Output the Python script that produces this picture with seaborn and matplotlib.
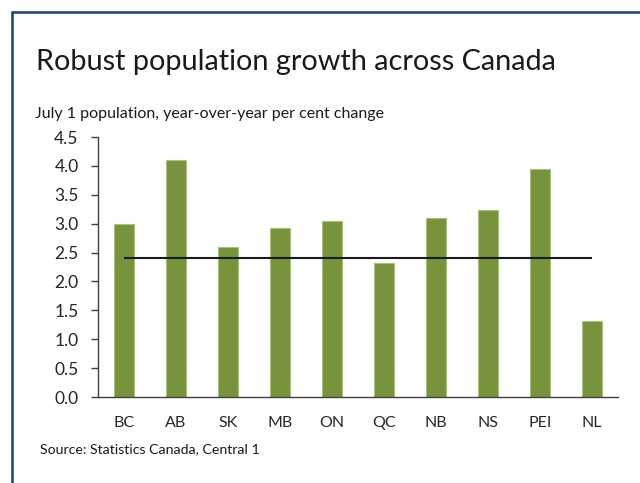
import matplotlib
matplotlib.use("Agg")
import matplotlib.pyplot as plt
import seaborn as sns
import numpy as np
import pandas as pd
from matplotlib.lines import Line2D

provinces = ["BC", "AB", "SK", "MB", "ON", "QC", "NB", "NS", "PEI", "NL"]
growth = [3.0, 4.1, 2.6, 2.93, 3.05, 2.32, 3.09, 3.23, 3.94, 1.31]
canada_avg = 2.4
yticks = [0.0, 0.5, 1.0, 1.5, 2.0, 2.5, 3.0, 3.5, 4.0, 4.5]

sns.set_style("white")
plt.rcParams['font.family'] = ['Lato', 'DejaVu Sans']

df = pd.DataFrame({"province": provinces, "growth": growth})

fig = plt.figure(figsize=(6.4, 4.83), dpi=100)
ax = fig.add_axes([98/640, 1-397/483, 520/640, 260/483])

sns.barplot(data=df, x="province", y="growth", color="#77933C", saturation=1,
            width=0.4, edgecolor="#A9C27A", linewidth=0.8, ax=ax)

ax.hlines(canada_avg, 0, len(provinces)-1, color="#1a1a1a", linewidth=1.5, zorder=5)

ax.set_ylim(0, 4.5)
ax.set_xlim(-0.5, len(provinces)-0.5)
ax.set_yticks(yticks)
ax.set_yticklabels([f"{v:.1f}" for v in yticks])
ax.set_xlabel("")
ax.set_ylabel("")
for s in ["top", "right"]:
    ax.spines[s].set_visible(False)
for s in ["left", "bottom"]:
    ax.spines[s].set_color("#404040")
    ax.spines[s].set_linewidth(1.0)
ax.set_xticks(np.arange(-0.5, len(provinces), 1.0), minor=True)
ax.tick_params(axis="x", which="major", length=0, pad=14, labelsize=11.5, colors="#262626")
ax.tick_params(axis="x", which="minor", length=5, direction="out", color="#404040", width=1)
ax.tick_params(axis="y", length=5, direction="out", color="#404040", width=1, labelsize=12.5, colors="#262626", pad=9)
ax.tick_params(axis="both", bottom=True, left=True)
ax.grid(False)

fig.text(36/640, 1-62/483, "Robust population growth across Canada", fontsize=20.8,
         color="#1a1a1a", va="center", ha="left")
fig.text(35/640, 1-114/483, "July 1 population, year-over-year per cent change", fontsize=11.5,
         color="#1a1a1a", va="center", ha="left")
fig.text(40/640, 1-449/483, "Source: Statistics Canada, Central 1", fontsize=10.2,
         color="#1a1a1a", va="center", ha="left")

border_color = "#1F3F7A"
fig.add_artist(Line2D([12/640, 12/640], [0, 1-12/483], color=border_color, linewidth=1.8, transform=fig.transFigure))
fig.add_artist(Line2D([12/640, 1], [1-12/483, 1-12/483], color=border_color, linewidth=1.8, transform=fig.transFigure))

fig.savefig("out.png", dpi=100)
